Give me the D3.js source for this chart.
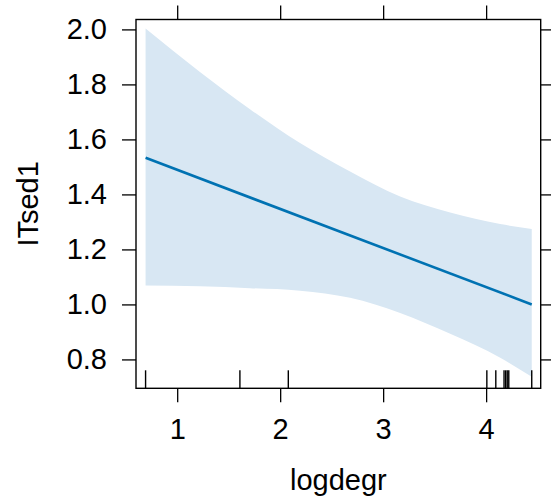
<!DOCTYPE html>
<html lang="en">
<head>
<meta charset="utf-8">
<title>ITsed1 effect</title>
<script src="https://d3js.org/d3.v7.min.js"></script>
<style>
  body { margin: 0; background: #fff; }
  text { font-family: "Liberation Sans", Arial, sans-serif; fill: #000; }
</style>
</head>
<body>
<script>
// tick labels
var xTicks = [1, 2, 3, 4];
var yTicks = [0.8, 1.0, 1.2, 1.4, 1.6, 1.8, 2.0];

// fitted line (ends)
var fitX = [0.693, 4.443];
var fitY = [1.533, 1.0];

// confidence band
var bandX     = [0.693, 1.221, 1.707, 2.193, 2.679, 3.165, 3.651, 4.137, 4.443];
var bandUpper = [2.003, 1.845, 1.710, 1.587, 1.483, 1.392, 1.334, 1.292, 1.274];
var bandLower = [1.069, 1.066, 1.059, 1.050, 1.024, 0.969, 0.893, 0.806, 0.737];

// rug (observed logdegr)
var rug = [0.693, 1.609, 2.079, 4.007, 4.094, 4.174, 4.19, 4.205, 4.22, 4.443];

var width = 551, height = 498;
// plot frame (note: "top" is reserved on window, so use pTop etc.)
var pLeft = 136, pRight = 540.7, pTop = 19.5, pBottom = 388.3;

var svg = d3.select("body").append("svg")
    .attr("width", width)
    .attr("height", height);

var x = d3.scaleLinear().domain([0.6, 4.53]).range([pLeft, pRight]);
var y = d3.scaleLinear().domain([0.695, 2.036]).range([pBottom, pTop]);

var band = bandX.map(function(d, i) { return {x: d, lo: bandLower[i], hi: bandUpper[i]}; });

svg.append("path")
    .datum(band)
    .attr("fill", "#d8e7f3")
    .attr("d", d3.area()
        .curve(d3.curveMonotoneX)
        .x(function(d) { return x(d.x); })
        .y0(function(d) { return y(d.lo); })
        .y1(function(d) { return y(d.hi); }));

svg.append("path")
    .datum(fitX.map(function(d, i) { return [d, fitY[i]]; }))
    .attr("fill", "none")
    .attr("stroke", "#0072B2")
    .attr("stroke-width", 2.6)
    .attr("d", d3.line()
        .x(function(d) { return x(d[0]); })
        .y(function(d) { return y(d[1]); }));

// rug
svg.selectAll("line.rug")
    .data(rug)
    .enter().append("line")
    .attr("class", "rug")
    .attr("x1", function(d) { return x(d); })
    .attr("x2", function(d) { return x(d); })
    .attr("y1", pBottom)
    .attr("y2", pBottom - 18)
    .attr("stroke", "#000")
    .attr("stroke-width", 1.4);

// axes, lattice style: ticks on all four sides, labels left and bottom
var tickLen = 14;
function styleAxis(g) {
    g.select(".domain").remove();
    g.selectAll(".tick line").attr("stroke", "#000").attr("stroke-width", 1.3);
    g.selectAll(".tick text").style("font-size", "29px");
}

svg.append("g")
    .attr("transform", "translate(0," + pBottom + ")")
    .call(d3.axisBottom(x).tickValues(xTicks).tickFormat(d3.format("d"))
        .tickSizeInner(tickLen).tickSizeOuter(0).tickPadding(16))
    .call(styleAxis);

svg.append("g")
    .attr("transform", "translate(0," + pTop + ")")
    .call(d3.axisTop(x).tickValues(xTicks).tickFormat("")
        .tickSizeInner(tickLen).tickSizeOuter(0))
    .call(styleAxis);

svg.append("g")
    .attr("transform", "translate(" + pLeft + ",0)")
    .call(d3.axisLeft(y).tickValues(yTicks).tickFormat(d3.format(".1f"))
        .tickSizeInner(tickLen).tickSizeOuter(0).tickPadding(15))
    .call(styleAxis);

svg.append("g")
    .attr("transform", "translate(" + pRight + ",0)")
    .call(d3.axisRight(y).tickValues(yTicks).tickFormat("")
        .tickSizeInner(tickLen).tickSizeOuter(0))
    .call(styleAxis);

// frame
svg.append("rect")
    .attr("x", pLeft).attr("y", pTop)
    .attr("width", pRight - pLeft).attr("height", pBottom - pTop)
    .attr("fill", "none")
    .attr("stroke", "#000")
    .attr("stroke-width", 1.4);

// axis titles
svg.append("text")
    .attr("x", (pLeft + pRight) / 2)
    .attr("y", 490)
    .attr("text-anchor", "middle")
    .style("font-size", "29px")
    .text("logdegr");

svg.append("text")
    .attr("transform", "translate(38," + (pTop + pBottom) / 2 + ") rotate(-90)")
    .attr("text-anchor", "middle")
    .style("font-size", "29px")
    .text("ITsed1");
</script>
</body>
</html>
